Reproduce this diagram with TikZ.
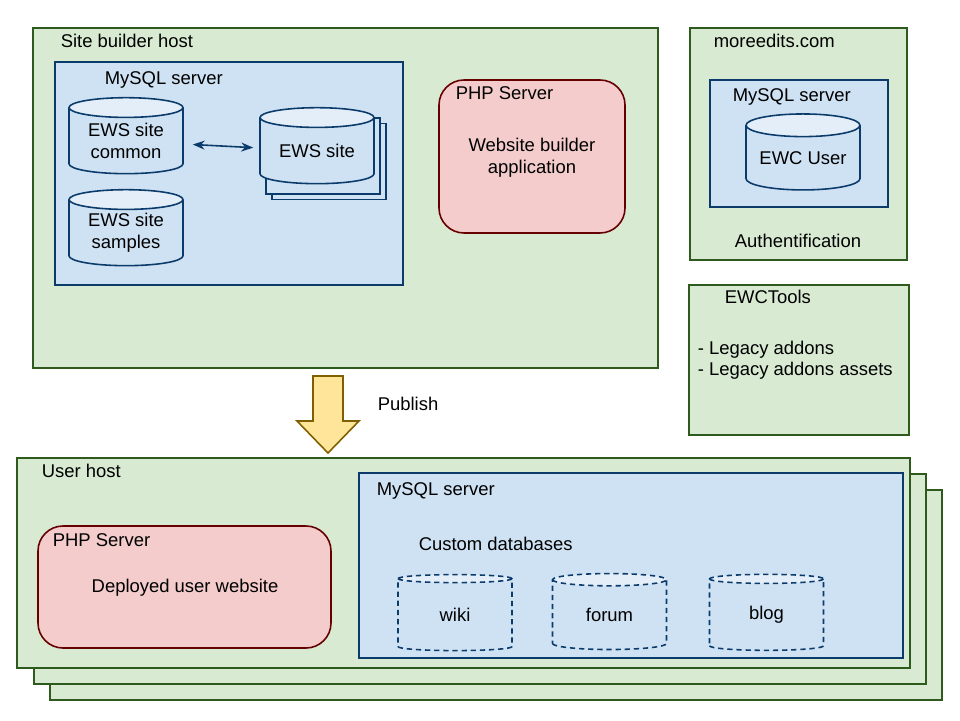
\documentclass[tikz,border=0pt]{standalone}
\usepackage{fontspec}
\setmainfont{Liberation Sans}
\usetikzlibrary{shapes.geometric,arrows.meta,positioning}

\definecolor{hostfill}{HTML}{D9EAD3}
\definecolor{hostline}{HTML}{2E5A1E}
\definecolor{sqlfill}{HTML}{CFE2F3}
\definecolor{sqltop}{HTML}{E3EEF8}
\definecolor{sqlline}{HTML}{0B3B6B}
\definecolor{phpfill}{HTML}{F4CCCC}
\definecolor{phpline}{HTML}{660000}
\definecolor{pubfill}{HTML}{FFE599}
\definecolor{publine}{HTML}{7F6000}

\begin{document}
\begin{tikzpicture}[x=0.02cm, y=-0.02cm, line width=0.9pt,
		every node/.style={font=\fontsize{10.5}{12.6}\selectfont}
	]
	
	\tikzset{
		hostbox/.style={draw=hostline, fill=hostfill},
		sqlbox/.style={draw=sqlline, fill=sqlfill},
		phpbox/.style={draw=phpline, fill=phpfill, rounded corners=0.5cm},
		dbcyl/.style={cylinder, shape border rotate=90, draw=sqlline, cylinder uses custom fill,
			cylinder body fill=sqlfill, cylinder end fill=sqltop, aspect=0.26,
			minimum width=2.28cm, minimum height=1.52cm, inner sep=0pt, align=center},
		dashcyl/.style={dbcyl, dash pattern=on 3pt off 2.2pt},
		caption/.style={anchor=west, inner sep=0pt},
	}
	
	\useasboundingbox [fill=white] (0,0) rectangle (960,720);
	
	% site builder host
	\draw [hostbox] (33,28) rectangle (658,368);
	\node [caption] (builderlbl) at (60,41) {Site builder host};
	
	\draw [sqlbox] (55,62) rectangle (403,285);
	\node [caption] (buildersql) at (104,80) {MySQL server};
	
	\node [dbcyl] (common) at (126,141) {EWS site\\common};
	\node [dbcyl] (samples) at (126,233) {EWS site\\samples};
	
	\node [dbcyl] (site3) at (329,162) {};
	\node [dbcyl] (site2) at (323,156.5) {};
	\node [dbcyl] (site) at (317,151) {EWS site};
	
	\draw [sqlline, {Stealth[length=2.4mm]}-{Stealth[length=2.4mm]}, shorten <=0.18cm, shorten >=0.12cm] (common) -- (site);
	
	\draw [phpbox] (439,80) rectangle (625,233);
	\node [caption] (builderphp) at (455,93) {PHP Server};
	\node [align=center] (builderapp) at (532,158) {Website builder\\application};
	
	% moreedits.com
	\draw [hostbox] (690,28) rectangle (907,260);
	\node [caption] (morelbl) at (713,41) {moreedits.com};
	\draw [sqlbox] (710,80) rectangle (888,207);
	\node [caption] (moresql) at (732,97) {MySQL server};
	\node [dbcyl] (ewcuser) at (803,158) {EWC User};
	\node (auth) at (798,241) {Authentification};
	
	% EWCTools
	\draw [hostbox] (689,285) rectangle (909,435);
	\node [caption] (toolslbl) at (724,297) {EWCTools};
	\node [caption] (legacy) at (697,350) {- Legacy addons};
	\node [caption] (assets) at (697,371) {- Legacy addons assets};
	
	% publish
	\draw [draw=publine, fill=pubfill, line join=miter] (313,376) -- (343,376) -- (343,421) -- (359,421)
		-- (328,453) -- (297,421) -- (313,421) -- cycle;
	\node [caption] (publish) at (377,404) {Publish};
	
	% user host
	\draw [hostbox] (50,490) rectangle (942,700);
	\draw [hostbox] (34,474) rectangle (926,684);
	\draw [hostbox] (17,458) rectangle (910,668);
	\node [caption] (userlbl) at (41,471) {User host};
	
	\draw [phpbox] (38,526) rectangle (331,648);
	\node [caption] (userphp) at (52,540) {PHP Server};
	\node (deployed) at (185,588) {Deployed user website};
	
	\draw [sqlbox] (359,473) rectangle (903,658);
	\node [caption] (usersql) at (376,491) {MySQL server};
	\node [caption] (custom) at (418,544) {Custom databases};
	
	\node [dashcyl] (wiki) at (455,615) {wiki};
	\node [dashcyl] (forum) at (609.5,615) {forum};
	\node [dashcyl] (blog) at (766.5,615) {blog};
	
\end{tikzpicture}
\end{document}
